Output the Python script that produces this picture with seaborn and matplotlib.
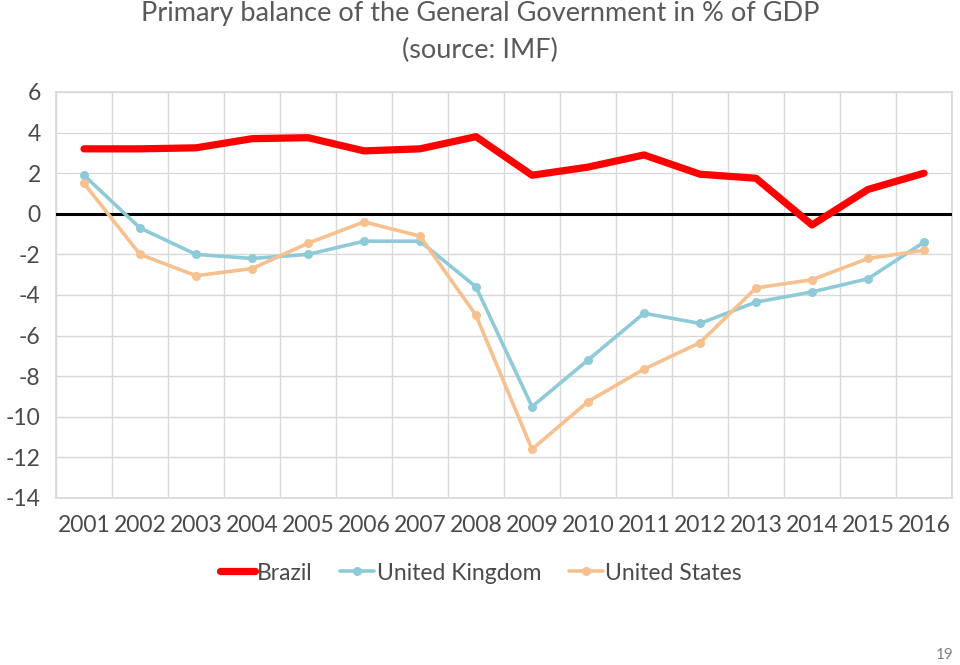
import matplotlib
matplotlib.use("Agg")
import matplotlib.pyplot as plt
import seaborn as sns
import pandas as pd
import numpy as np
from matplotlib.ticker import FixedLocator

years = ["2001", "2002", "2003", "2004", "2005", "2006", "2007", "2008",
         "2009", "2010", "2011", "2012", "2013", "2014", "2015", "2016"]
brazil = [3.2, 3.2, 3.25, 3.7, 3.75, 3.1, 3.2, 3.8, 1.9, 2.3, 2.9, 1.95, 1.75, -0.55, 1.2, 2.0]
uk = [1.9, -0.7, -2.0, -2.2, -2.0, -1.35, -1.35, -3.6, -9.5, -7.2, -4.9, -5.4, -4.35, -3.85, -3.2, -1.4]
us = [1.5, -2.0, -3.05, -2.7, -1.45, -0.4, -1.1, -5.0, -11.6, -9.25, -7.65, -6.35, -3.65, -3.25, -2.2, -1.8]
series_names = ["Brazil", "United Kingdom", "United States"]
yticks = [6, 4, 2, 0, -2, -4, -6, -8, -10, -12, -14]

sns.set_theme(style="white")
plt.rcParams['font.family'] = ['Lato', 'DejaVu Sans']

idx = np.arange(len(years))
df = pd.DataFrame({
    "x": np.concatenate([idx, idx, idx]),
    "value": brazil + uk + us,
    "series": [series_names[0]] * 16 + [series_names[1]] * 16 + [series_names[2]] * 16,
})

colors = {"Brazil": "#FF0000", "United Kingdom": "#8FCAD9", "United States": "#F7C08F"}
txt = "#4a4a4a"

fig = plt.figure(figsize=(9.6, 6.65), dpi=100)
ax = fig.add_axes([56 / 960, (665 - 498) / 665, (952 - 56) / 960, (498 - 92) / 665])

for name in series_names:
    sub = df[df["series"] == name]
    if name == "Brazil":
        sns.lineplot(data=sub, x="x", y="value", ax=ax, color=colors[name], lw=5.2,
                     label=name, zorder=5, solid_capstyle="round")
    else:
        sns.lineplot(data=sub, x="x", y="value", ax=ax, color=colors[name], lw=2.6,
                     marker="o", markersize=6.5, markeredgewidth=0, label=name, zorder=4)

ax.axhline(0, color="black", lw=2.2, zorder=3)

ax.set_xlim(-0.5, len(years) - 0.5)
ax.set_ylim(-14, 6)
ax.set_yticks(yticks)
ax.set_yticklabels([str(v) for v in yticks], fontsize=16.5, color=txt)
ax.set_xticks(idx)
ax.set_xticklabels(years, fontsize=16.5, color=txt)
ax.xaxis.set_minor_locator(FixedLocator(np.arange(-0.5, len(years), 1.0)))
ax.grid(True, axis="y", which="major", color="#D9D9D9", lw=1)
ax.grid(True, axis="x", which="minor", color="#D9D9D9", lw=1)
ax.grid(False, axis="x", which="major")
ax.tick_params(axis="y", which="both", length=0, pad=11)
ax.tick_params(axis="x", which="both", length=0, pad=12)
ax.set_xlabel("")
ax.set_ylabel("")
for s in ax.spines.values():
    s.set_visible(True)
    s.set_color("#D9D9D9")

ax.legend(loc="center", bbox_to_anchor=(481 / 960, 1 - 573 / 665), bbox_transform=fig.transFigure,
          ncol=3, frameon=False, fontsize=16.5, handlelength=1.5, handletextpad=0.1,
          columnspacing=1.2, labelcolor=txt)

fig.text(0.5, 1 - 14 / 665, "Primary balance of the General Government in % of GDP",
         ha="center", va="center", fontsize=19.5, color="#595959")
fig.text(0.5, 1 - 50 / 665, "(source: IMF)", ha="center", va="center", fontsize=19.5, color="#595959")
fig.text(945 / 960, 1 - 655 / 665, "19", ha="center", va="center", fontsize=11, color="#808080")

fig.savefig("out.png", dpi=100)
